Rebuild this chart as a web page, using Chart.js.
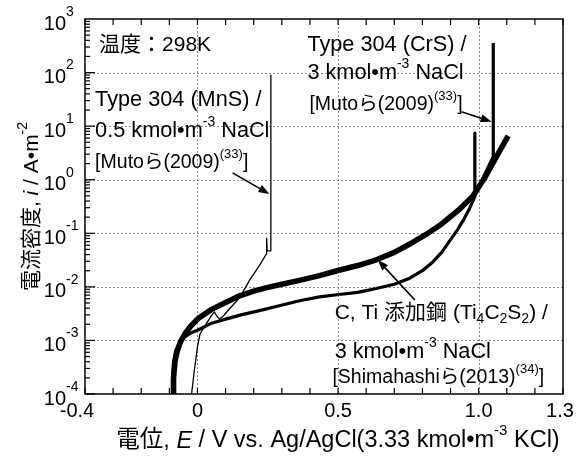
<!DOCTYPE html>
<html>
<head>
<meta charset="utf-8">
<script src="https://cdn.jsdelivr.net/npm/chart.js@4.4.1/dist/chart.umd.min.js"></script>
<style>
  html, body { margin: 0; padding: 0; background: #fff; }
  #grafico { display: block; }
</style>
</head>
<body>
<canvas id="grafico" width="587" height="457"></canvas>
<script>
// potencial (V vs Ag/AgCl) e densidade de corrente (A/m2) de cada curva
const potCTi = [-0.087, -0.085, -0.08, -0.072, -0.06, -0.045, -0.025, 0, 0.05, 0.1, 0.15, 0.2, 0.25, 0.3,
  0.363, 0.434, 0.503, 0.57, 0.636, 0.7, 0.755, 0.81, 0.862, 0.93, 0.98, 1.02, 1.06, 1.105];
const corCTi = [1.0e-4, 2.0e-4, 4.0e-4, 6.3e-4, 9.5e-4, 1.32e-3, 1.82e-3, 2.5e-3, 3.8e-3, 5.1e-3, 6.8e-3, 8.3e-3, 9.8e-3, 1.12e-2,
  1.32e-2, 1.62e-2, 2.04e-2, 2.5e-2, 3.2e-2, 4.4e-2, 6.3e-2, 9.3e-2, 0.141, 0.275, 0.5, 1.05, 2.5, 6.6];

const potCrS = [-0.09, -0.089, -0.085, -0.078, -0.065, -0.045, -0.02, 0, 0.05, 0.1, 0.155, 0.22, 0.28, 0.363,
  0.434, 0.503, 0.57, 0.636, 0.7, 0.755, 0.8, 0.838, 0.87, 0.897, 0.925, 0.945, 0.969, 0.986, 0.986, 0.987,
  1.0, 1.02, 1.04, 1.052, 1.052];
const corCrS = [1.0e-4, 2.0e-4, 4.0e-4, 6.3e-4, 8.9e-4, 1.17e-3, 1.41e-3, 1.55e-3, 2.1e-3, 2.5e-3, 3.0e-3, 3.6e-3, 4.3e-3, 5.5e-3,
  6.5e-3, 7.2e-3, 7.9e-3, 9.3e-3, 1.12e-2, 1.45e-2, 2.0e-2, 2.95e-2, 4.5e-2, 7.2e-2, 0.117, 0.174, 0.3, 0.48, 7.4, 0.5,
  0.71, 1.2, 2.0, 2.7, 355];

const potMnS = [-0.021, -0.011, 0, 0.009, 0.03, 0.048, 0.06, 0.07, 0.078, 0.09, 0.12, 0.15, 0.185, 0.22,
  0.246, 0.246, 0.248, 0.261, 0.261];
const corMnS = [1.0e-4, 2.8e-4, 7.6e-4, 1.32e-3, 2.0e-3, 2.8e-3, 3.4e-3, 2.8e-3, 2.5e-3, 2.8e-3, 4.2e-3, 6.3e-3, 1.32e-2, 2.5e-2,
  4.2e-2, 8.1e-2, 4.7e-2, 4.7e-2, 91];

// eixos
const xRotulos = [-0.4, 0, 0.5, 1.0, 1.3];
const xTextos = ["-0.4", "0", "0.5", "1.0", "1.3"];
const xGrade = [0, 0.5, 1.0];
const yExpoentes = [-4, -3, -2, -1, 0, 1, 2, 3];

const FONTE = '"Liberation Sans", Arial, "Noto Sans CJK JP", sans-serif';

// textos e setas (posicao em coordenadas do grafico)
const notas = [
  { x: -0.35, y: 327, t: 21, partes: ["温度：298K"] },
  { x: -0.364, y: 30.8, t: 21.7, partes: ["Type 304 (MnS) /"] },
  { x: -0.364, y: 8.1, t: 21.7, partes: ["0.5 kmol•m", { s: "-3" }, " NaCl"] },
  { x: -0.364, y: 2.06, t: 19.5, partes: ["[Mutoら(2009)", { s: "(33)" }, "]"] },
  { x: 0.391, y: 327, t: 21.7, partes: ["Type 304 (CrS) /"] },
  { x: 0.391, y: 98, t: 21.7, partes: ["3 kmol•m", { s: "-3" }, " NaCl"] },
  { x: 0.398, y: 24.9, t: 19.5, partes: ["[Mutoら(2009)", { s: "(33)" }, "]"] },
  { x: 0.488, y: 3.27e-3, t: 21, partes: ["C, Ti 添加鋼 (Ti", { i: "4" }, "C", { i: "2" }, "S", { i: "2" }, ") /"] },
  { x: 0.488, y: 6.1e-4, t: 21.7, partes: ["3 kmol•m", { s: "-3" }, " NaCl"] },
  { x: 0.48, y: 2.0e-4, t: 19.5, partes: ["[Shimahashiら(2013)", { s: "(34)" }, "]"] },
];
const setas = [
  { de: [0.125, 1.34], para: [0.256, 0.54] },
  { de: [0.939, 18.6], para: [1.046, 12.1] },
  { de: [0.773, 5.7e-3], para: [0.641, 3.2e-2] },
];

function pares(xs, ys) {
  return xs.map((x, k) => ({ x: x, y: ys[k] }));
}

// cada parte: texto normal, {s} sobrescrito, {i} subscrito, {n} italico
function fontePara(p, t) {
  if (typeof p === "string") return t + "px " + FONTE;
  if (p.n) return "italic " + t + "px " + FONTE;
  return Math.round(t * 0.65) + "px " + FONTE;
}

function textoDe(p) {
  return typeof p === "string" ? p : p.s || p.i || p.n;
}

function medirPartes(ctx, partes, t) {
  let w = 0;
  partes.forEach((p) => {
    ctx.font = fontePara(p, t);
    w += ctx.measureText(textoDe(p)).width;
  });
  return w;
}

function escrever(ctx, partes, x, y, t) {
  ctx.textBaseline = "middle";
  ctx.textAlign = "left";
  ctx.fillStyle = "#000";
  let px = x;
  partes.forEach((p) => {
    const txt = textoDe(p);
    let dy = 0;
    if (p.s) dy = -t * 0.42;
    if (p.i) dy = t * 0.3;
    ctx.font = fontePara(p, t);
    ctx.fillText(txt, px, y + dy);
    px += ctx.measureText(txt).width;
  });
}

function seta(ctx, x1, y1, x2, y2) {
  const ang = Math.atan2(y2 - y1, x2 - x1);
  const L = 11, W = 4;
  ctx.strokeStyle = "#000";
  ctx.fillStyle = "#000";
  ctx.lineWidth = 1.6;
  ctx.beginPath();
  ctx.moveTo(x1, y1);
  ctx.lineTo(x2 - L * Math.cos(ang), y2 - L * Math.sin(ang));
  ctx.stroke();
  ctx.beginPath();
  ctx.moveTo(x2, y2);
  ctx.lineTo(x2 - L * Math.cos(ang) + W * Math.sin(ang), y2 - L * Math.sin(ang) - W * Math.cos(ang));
  ctx.lineTo(x2 - L * Math.cos(ang) - W * Math.sin(ang), y2 - L * Math.sin(ang) + W * Math.cos(ang));
  ctx.closePath();
  ctx.fill();
}

const moldura = {
  id: "moldura",
  beforeDatasetsDraw(chart) {
    const ctx = chart.ctx;
    const a = chart.chartArea;
    const sx = chart.scales.x, sy = chart.scales.y;
    ctx.save();
    ctx.strokeStyle = "#8a8a8a";
    ctx.lineWidth = 1;
    ctx.setLineDash([2, 2]);
    xGrade.forEach((v) => {
      const px = Math.round(sx.getPixelForValue(v)) + 0.5;
      ctx.beginPath();
      ctx.moveTo(px, a.top);
      ctx.lineTo(px, a.bottom);
      ctx.stroke();
    });
    yExpoentes.slice(1, -1).forEach((e) => {
      const py = Math.round(sy.getPixelForValue(Math.pow(10, e))) + 0.5;
      ctx.beginPath();
      ctx.moveTo(a.left, py);
      ctx.lineTo(a.right, py);
      ctx.stroke();
    });
    ctx.restore();
  },
  afterDatasetsDraw(chart) {
    const ctx = chart.ctx;
    const a = chart.chartArea;
    const sx = chart.scales.x, sy = chart.scales.y;
    ctx.save();
    ctx.strokeStyle = "#000";
    ctx.lineWidth = 1.5;
    ctx.strokeRect(a.left, a.top, a.right - a.left, a.bottom - a.top);

    // marcas do eixo x (dentro, embaixo e em cima)
    ctx.lineWidth = 1.2;
    for (let k = -4; k <= 13; k++) {
      const px = sx.getPixelForValue(k / 10);
      ctx.beginPath();
      ctx.moveTo(px, a.bottom);
      ctx.lineTo(px, a.bottom - 6);
      ctx.moveTo(px, a.top);
      ctx.lineTo(px, a.top + 6);
      ctx.stroke();
    }
    // marcas do eixo y (log)
    for (let e = -4; e <= 2; e++) {
      for (let m = 1; m <= 9; m++) {
        const py = sy.getPixelForValue(m * Math.pow(10, e));
        ctx.beginPath();
        ctx.moveTo(a.left, py);
        ctx.lineTo(a.left + (m === 1 ? 10 : 5), py);
        ctx.stroke();
      }
    }

    // rotulos
    ctx.fillStyle = "#000";
    ctx.textBaseline = "middle";
    ctx.font = "20px " + FONTE;
    ctx.textAlign = "center";
    xRotulos.forEach((v, k) => {
      let px = sx.getPixelForValue(v);
      if (k === 0) px -= 8;
      if (k === xRotulos.length - 1) px -= 3;
      ctx.fillText(xTextos[k], px, a.bottom + 17);
    });
    yExpoentes.forEach((e) => {
      const py = sy.getPixelForValue(Math.pow(10, e));
      ctx.font = "14px " + FONTE;
      ctx.textAlign = "left";
      ctx.fillText(String(e), 66, py - 7);
      ctx.font = "20px " + FONTE;
      ctx.textAlign = "right";
      ctx.fillText("10", 66, py + 5);
    });

    // titulos dos eixos
    const partesX = ["電位, ", { n: "E" }, " / V vs. Ag/AgCl(3.33 kmol•m", { s: "-3" }, " KCl)"];
    const wx = medirPartes(ctx, partesX, 23.5);
    escrever(ctx, partesX, 338 - wx / 2, 441, 23.5);

    const partesY = ["電流密度, ", { n: "i" }, " / A•m", { s: "-2" }];
    const wy = medirPartes(ctx, partesY, 21);
    ctx.translate(32, (a.top + a.bottom) / 2);
    ctx.rotate(-Math.PI / 2);
    escrever(ctx, partesY, -wy / 2, 0, 21);
    ctx.setTransform(1, 0, 0, 1, 0, 0);

    notas.forEach((n) => {
      escrever(ctx, n.partes, sx.getPixelForValue(n.x), sy.getPixelForValue(n.y), n.t);
    });
    setas.forEach((s) => {
      seta(ctx, sx.getPixelForValue(s.de[0]), sy.getPixelForValue(s.de[1]),
        sx.getPixelForValue(s.para[0]), sy.getPixelForValue(s.para[1]));
    });
    ctx.restore();
  },
};

new Chart(document.getElementById("grafico"), {
  type: "scatter",
  data: {
    datasets: [
      { label: "Type 304 (MnS)", data: pares(potMnS, corMnS), borderWidth: 1.3 },
      { label: "Type 304 (CrS)", data: pares(potCrS, corCrS), borderWidth: 3.2 },
      { label: "C, Ti 添加鋼", data: pares(potCTi, corCTi), borderWidth: 5.5 },
    ].map((d) => Object.assign(d, {
      showLine: true, pointRadius: 0, borderColor: "#000", backgroundColor: "#000",
      tension: 0, borderJoinStyle: "round", borderCapStyle: "butt",
    })),
  },
  options: {
    responsive: false,
    devicePixelRatio: 1,
    animation: false,
    layout: { padding: { left: 85, top: 19, right: 24, bottom: 63 } },
    scales: {
      x: { type: "linear", min: -0.4, max: 1.3, display: false },
      y: { type: "logarithmic", min: 1e-4, max: 1e3, display: false },
    },
    plugins: { legend: { display: false }, tooltip: { enabled: false } },
  },
  plugins: [moldura],
});
</script>
</body>
</html>
